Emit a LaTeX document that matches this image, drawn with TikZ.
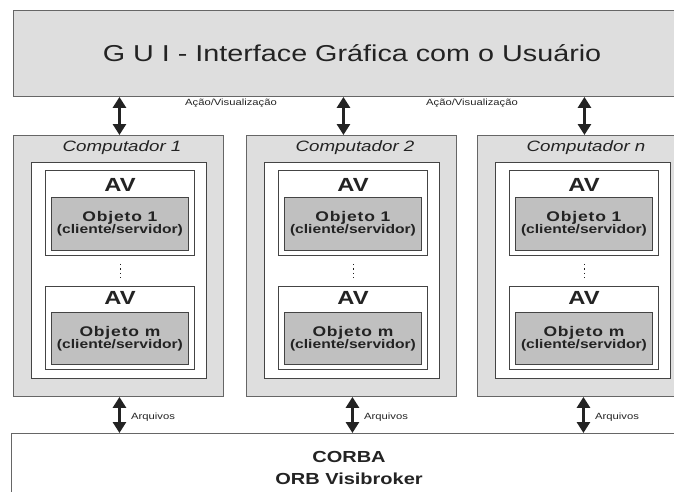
\documentclass[tikz,border=0pt]{standalone}
\usepackage{fontspec}
\setmainfont[FakeStretch=1.25]{Liberation Sans}
\usetikzlibrary{arrows.meta}
\definecolor{boxgray}{RGB}{222,222,222}
\definecolor{objgray}{RGB}{192,192,192}
\definecolor{ink}{RGB}{35,35,35}

\begin{document}
\begin{tikzpicture}[x=1pt, y=-1pt,
    box/.style={draw=ink!85, line width=0.9pt, anchor=north west, inner sep=0pt},
    outerbox/.style={box, draw=black!60, fill=boxgray},
    objbox/.style={box, fill=objgray, minimum width=137pt, align=center, text=ink, font=\bfseries},
    link/.style={{Triangle[width=13pt,length=11pt]}-{Triangle[width=13pt,length=11pt]}, line width=3.5pt, ink},
    small/.style={font=\fontsize{9}{10}\selectfont, text=ink, inner sep=0pt}]
  \useasboundingbox (0,0) rectangle (674,491);
  \clip (0,0) rectangle (674,491);

  % GUI and CORBA bands
  \node[outerbox, minimum width=700pt, minimum height=86pt] (gui) at (13,10) {};
  \node[font=\fontsize{23}{26}\selectfont, text=ink] (guitext) at (352,53) {G U I - Interface Gráfica com o Usuário};
  \node[box, draw=black!60, fill=white, minimum width=700pt, minimum height=90pt] (corba) at (11,433) {};
  \node[font=\bfseries\fontsize{16}{22}\selectfont, text=ink, align=center] (corbatext) at (349,468) {CORBA\\ORB Visibroker};

  \node[small] (acao1) at (231,103) {Ação/Visualização};
  \node[small] (acao2) at (472,103) {Ação/Visualização};

  % one column per computer
  \foreach \x/\n/\dx in {13/1/1, 246/2/-8, 477/n/2} {
    \node[outerbox, minimum width=210pt, minimum height=261pt] (comp\n) at (\x,135) {};
    \node[font=\itshape\fontsize{15}{18}\selectfont, text=ink] (title\n) at (\x+109,148) {Computador \n};
    \node[box, fill=white, minimum width=175pt, minimum height=216pt] (inner\n) at (\x+18,162) {};
    \node[box, fill=white, minimum width=149pt, minimum height=85pt] (avA\n) at (\x+32,170) {};
    \node[box, fill=white, minimum width=149pt, minimum height=83pt] (avB\n) at (\x+32,286) {};
    \node[font=\bfseries\fontsize{19}{20}\selectfont, text=ink] (avtextA\n) at (\x+107,185) {AV};
    \node[font=\bfseries\fontsize{19}{20}\selectfont, text=ink] (avtextB\n) at (\x+107,298) {AV};
    \node[objbox, minimum height=53pt] (objA\n) at (\x+38,197)
      {\fontsize{14}{16}\selectfont\addfontfeature{LetterSpace=6}Objeto 1\\\fontsize{12.5}{15}\selectfont (cliente/servidor)};
    \node[objbox, minimum height=52pt] (objB\n) at (\x+38,312)
      {\fontsize{14}{16}\selectfont\addfontfeature{LetterSpace=6}Objeto m\\\fontsize{12.5}{15}\selectfont (cliente/servidor)};
    \draw[ink, line width=0.9pt, dash pattern=on 1.5pt off 3pt, shorten <=8pt, shorten >=8pt] (avA\n.south) -- (avB\n.north);
    \draw[link] ([xshift=\dx]comp\n.north |- gui.south) -- ([xshift=\dx]comp\n.north);
    \draw[link] ([xshift=1]comp\n.south) -- ([xshift=1]comp\n.south |- corba.north)
      node[small, right, xshift=10pt, pos=0.55] (arq\n) {Arquivos};
  }
\end{tikzpicture}
\end{document}
